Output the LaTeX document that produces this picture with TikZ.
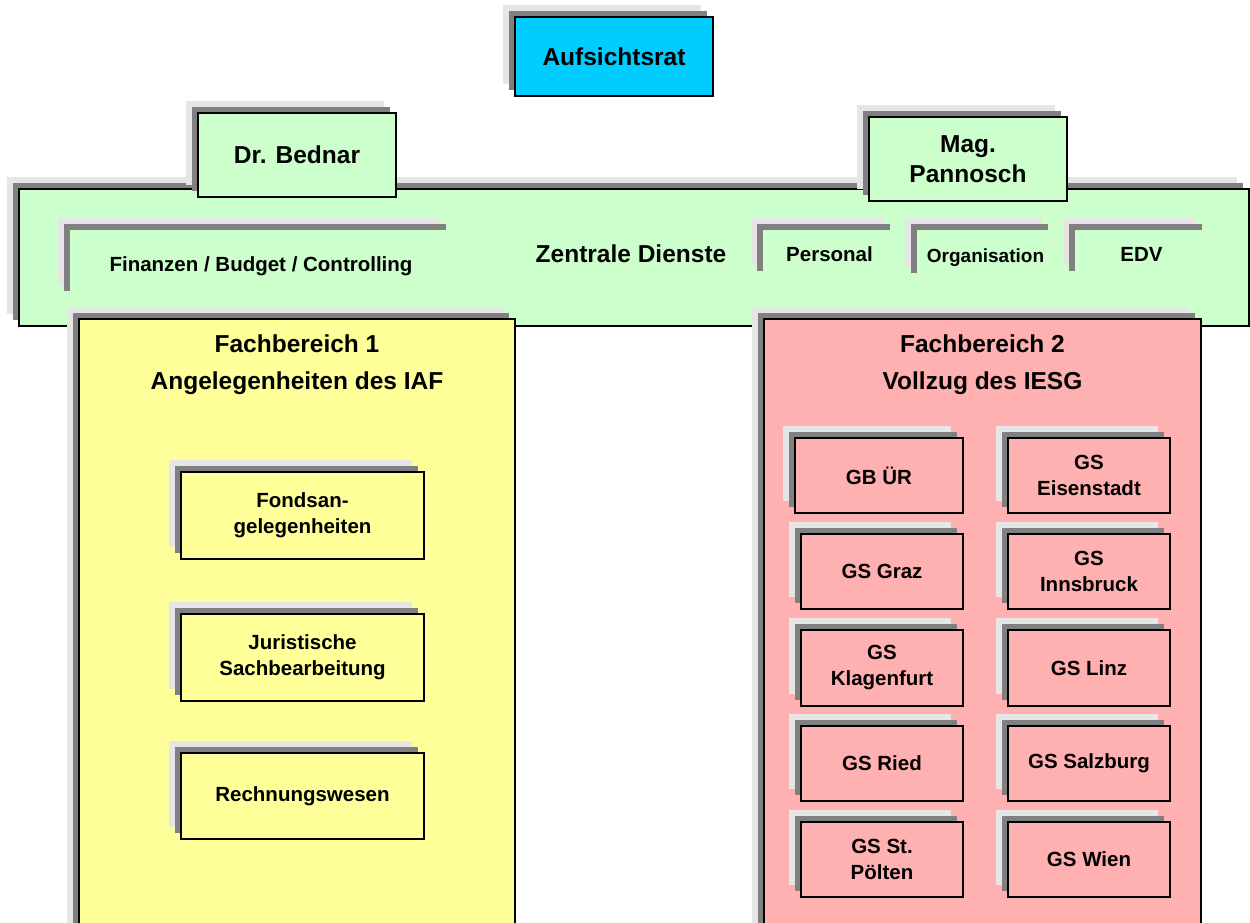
\documentclass[tikz,border=0pt]{standalone}
\usepackage{fontspec}
\setmainfont{Liberation Sans}
\usetikzlibrary{shadows}
\definecolor{lgray}{HTML}{E6E6E6}
\definecolor{dgray}{HTML}{808080}
\definecolor{cyanbox}{HTML}{00CCFF}
\definecolor{greenbox}{HTML}{CCFFCC}
\definecolor{yellowbox}{HTML}{FFFF99}
\definecolor{pinkbox}{HTML}{FFB0B0}
\tikzset{
  twoshadow/.style={
    copy shadow={shadow xshift=-12pt,shadow yshift=12pt,fill=lgray,draw=none},
    copy shadow={shadow xshift=-6pt,shadow yshift=6pt,fill=dgray,draw=none}},
  box/.style={twoshadow,rectangle,draw=black,line width=1.5pt,inner sep=0pt,align=center,
    font=\fontsize{20.5}{26}\selectfont\bfseries},
  bigbox/.style={box,font=\fontsize{24.5}{30}\selectfont\bfseries},
  tab/.style={twoshadow,rectangle,draw=none,inner sep=0pt,align=center,fill=greenbox,
    text height=16pt,text depth=0pt,
    font=\fontsize{20.5}{26}\selectfont\bfseries},
  title/.style={inner sep=0pt,align=center,font=\fontsize{24.5}{30}\selectfont\bfseries},
}
\begin{document}
\begin{tikzpicture}[x=1pt,y=-1pt]
\useasboundingbox (0,0) rectangle (1250,922);
\clip (0,0) rectangle (1250,922);
\fill[white] (0,0) rectangle (1250,922);
% top
\node[bigbox,fill=cyanbox,minimum width=198,minimum height=79] (auf) at (614,56.5) {Aufsichtsrat};
% Zentrale Dienste
\node[box,fill=greenbox,minimum width=1230,minimum height=137] (zd) at (634,257.5) {};
\node[title] (zdt) at (631,254) {Zentrale Dienste};
\node[bigbox,fill=greenbox,minimum width=198,minimum height=84] (bed) at (297,155) {Dr. Bednar};
\node[bigbox,fill=greenbox,minimum width=198,minimum height=84] (pan) at (968,159) {Mag.\\Pannosch};
\node[tab,minimum width=382,minimum height=67] (fin) at (261,263.5) {Finanzen / Budget / Controlling};
\node[tab,minimum width=133,minimum height=47] (pers) at (829.5,253.5) {Personal};
\node[tab,minimum width=137,minimum height=49,font=\fontsize{19}{23}\selectfont\bfseries] (org) at (985.5,254.5) {Organisation};
\node[tab,minimum width=133,minimum height=47] (edv) at (1141.5,253.5) {EDV};
% Fachbereich 1
\node[box,fill=yellowbox,minimum width=436,minimum height=641] (fb1) at (297,639.5) {};
\node[title] (fb1a) at (297,344) {Fachbereich 1};
\node[title] (fb1b) at (297,383) {Angelegenheiten des IAF};
\node[box,fill=yellowbox,minimum width=243,minimum height=87] (fonds) at (302.5,515.5) {Fondsan-\\gelegenheiten};
\node[box,fill=yellowbox,minimum width=243,minimum height=87] (jur) at (302.5,657.5) {Juristische\\Sachbearbeitung};
\node[box,fill=yellowbox,minimum width=243,minimum height=86] (rech) at (302.5,796) {Rechnungswesen};
% Fachbereich 2
\node[box,fill=pinkbox,minimum width=437,minimum height=641] (fb2) at (982.5,639.5) {};
\node[title] (fb2a) at (982.5,344) {Fachbereich 2};
\node[title] (fb2b) at (982.5,383) {Vollzug des IESG};
\node[box,fill=pinkbox,minimum width=168,minimum height=75] (gbur) at (879,475.5) {GB ÜR};
\node[box,fill=pinkbox,minimum width=162,minimum height=75] (graz) at (882,571.5) {GS Graz};
\node[box,fill=pinkbox,minimum width=162,minimum height=76] (klag) at (882,668) {GS\\Klagenfurt};
\node[box,fill=pinkbox,minimum width=162,minimum height=75] (ried) at (882,763.5) {GS Ried};
\node[box,fill=pinkbox,minimum width=162,minimum height=75] (stp) at (882,859.5) {GS St.\\Pölten};
\node[box,fill=pinkbox,minimum width=162,minimum height=75] (eis) at (1089,475.5) {GS\\Eisenstadt};
\node[box,fill=pinkbox,minimum width=162,minimum height=75] (inn) at (1089,571.5) {GS\\Innsbruck};
\node[box,fill=pinkbox,minimum width=162,minimum height=76] (linz) at (1089,668) {GS Linz};
\node[box,fill=pinkbox,minimum width=162,minimum height=75] (salz) at (1089,763.5) {GS Salzburg};
\node[box,fill=pinkbox,minimum width=162,minimum height=75] (wien) at (1089,859.5) {GS Wien};
\end{tikzpicture}
\end{document}
